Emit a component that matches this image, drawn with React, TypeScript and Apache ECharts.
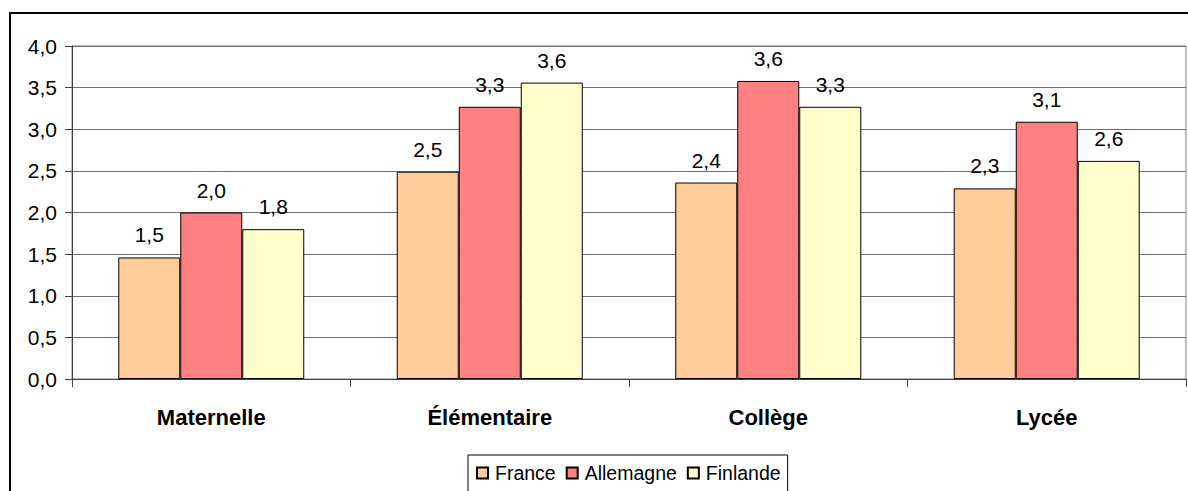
import React, { useEffect, useRef } from "react";
import * as echarts from "echarts";

const categories = ["Maternelle", "Élémentaire", "Collège", "Lycée"];
const seriesNames = ["France", "Allemagne", "Finlande"];
const france = [1.46, 2.49, 2.36, 2.29];
const allemagne = [2.0, 3.27, 3.58, 3.09];
const finlande = [1.8, 3.56, 3.27, 2.62];
const colors = ["#FFCC99", "#FF8080", "#FFFFCC"];

const FONT = "'Liberation Sans', Arial, sans-serif";
const fmt = (v: number) => v.toFixed(1).replace(".", ",");

export default function App() {
  const ref = useRef<HTMLDivElement>(null);
  useEffect(() => {
    if (!ref.current) return;
    const chart = echarts.init(ref.current, null, { renderer: "svg" });
    const values = [france, allemagne, finlande];
    chart.setOption({
      animation: false,
      backgroundColor: "#ffffff",
      textStyle: { fontFamily: FONT, color: "#000" },
      graphic: [
        {
          type: "rect",
          shape: { x: 10, y: 13, width: 1200, height: 500 },
          style: { fill: "none", stroke: "#000", lineWidth: 2 },
          silent: true,
          z: -1,
        },
      ],
      grid: {
        left: 72,
        top: 46,
        right: 2,
        bottom: 112,
        show: true,
        borderColor: "#808080",
        borderWidth: 1,
      },
      legend: {
        data: seriesNames,
        left: 468,
        top: 455,
        orient: "horizontal",
        itemWidth: 11,
        itemHeight: 11,
        itemGap: 10,
        padding: [8, 7, 30, 8],
        borderColor: "#000",
        borderWidth: 1,
        backgroundColor: "#fff",
        textStyle: { fontFamily: FONT, fontSize: 19.5, color: "#000", padding: [0, 0, 0, 2] },
        icon: "rect",
      },
      xAxis: {
        type: "category",
        data: categories,
        axisLine: { show: true, lineStyle: { color: "#404040", width: 1 } },
        axisTick: { show: true, length: 8, inside: false, lineStyle: { color: "#404040" } },
        axisLabel: {
          fontFamily: FONT,
          fontSize: 22,
          fontWeight: "bold",
          color: "#000",
          margin: 27,
        },
      },
      yAxis: {
        type: "value",
        min: 0,
        max: 4,
        interval: 0.5,
        axisLine: { show: true, lineStyle: { color: "#404040", width: 1 } },
        axisTick: { show: true, length: 7, inside: false, lineStyle: { color: "#404040" } },
        splitLine: { show: true, lineStyle: { color: "#707070", width: 1 } },
        axisLabel: {
          fontFamily: FONT,
          fontSize: 21,
          color: "#000",
          margin: 15,
          formatter: (v: number) => fmt(v),
        },
      },
      series: seriesNames.map((name, i) => ({
        name,
        type: "bar",
        data: values[i],
        barWidth: 62,
        barGap: "0%",
        itemStyle: { color: colors[i], borderColor: "#000", borderWidth: 1 },
        label: {
          show: true,
          position: "top",
          distance: 12,
          fontFamily: FONT,
          fontSize: 21,
          color: "#000",
          formatter: (p: any) => fmt(p.value),
        },
      })),
    });
    return () => chart.dispose();
  }, []);
  return (
    <div
      ref={ref}
      style={{ position: "absolute", left: 0, top: 0, width: 1188, height: 491 }}
    />
  );
}
